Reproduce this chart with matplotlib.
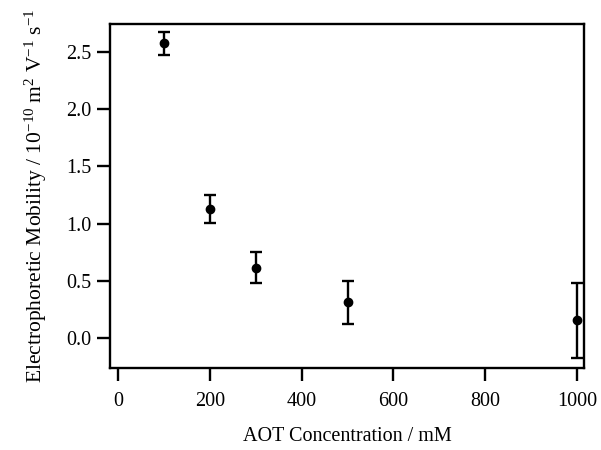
import matplotlib
matplotlib.use("Agg")
import matplotlib.pyplot as plt

aot_mM = [100, 200, 300, 500, 1000]
mobility = [2.576, 1.128, 0.615, 0.312, 0.155]
mobility_err = [0.10, 0.12, 0.134, 0.19, 0.33]
xticks = [0, 200, 400, 600, 800, 1000]
yticks = [0.0, 0.5, 1.0, 1.5, 2.0, 2.5]

plt.rcParams['font.family'] = ['Liberation Serif', 'DejaVu Serif']
plt.rcParams['mathtext.fontset'] = 'custom'
plt.rcParams['mathtext.rm'] = 'Liberation Serif'
plt.rcParams['mathtext.it'] = 'Liberation Serif:italic'
plt.rcParams['axes.unicode_minus'] = False

fig = plt.figure(figsize=(6.01, 4.5), dpi=100)
ax = fig.add_axes([110/601, 1-368/450, (584-110)/601, (368-24)/450])

ax.errorbar(aot_mM, mobility, yerr=mobility_err, fmt='o', color='black',
            markersize=6, elinewidth=1.7, capsize=4.5, capthick=1.7)

ax.set_xlim(-17.4, 1015)
ax.set_ylim(-0.262, 2.745)
ax.set_xticks(xticks)
ax.set_xticklabels([str(v) for v in xticks])
ax.set_yticks(yticks)
ax.set_yticklabels([f"{v:.1f}" for v in yticks])

for s in ax.spines.values():
    s.set_linewidth(1.7)
ax.tick_params(axis='both', direction='out', length=9.5, width=1.7, labelsize=14.5)
ax.tick_params(axis='x', pad=8)
ax.tick_params(axis='y', pad=4)

ax.set_xlabel("AOT Concentration / mM", fontsize=14.5, labelpad=11)
ax.set_ylabel(r"Electrophoretic Mobility / 10$^{\mathrm{-10}}$ m$^{\mathrm{2}}$ V$^{\mathrm{-1}}$ s$^{\mathrm{-1}}$",
              fontsize=15.5, labelpad=12)

fig.savefig("out.png", dpi=100)
